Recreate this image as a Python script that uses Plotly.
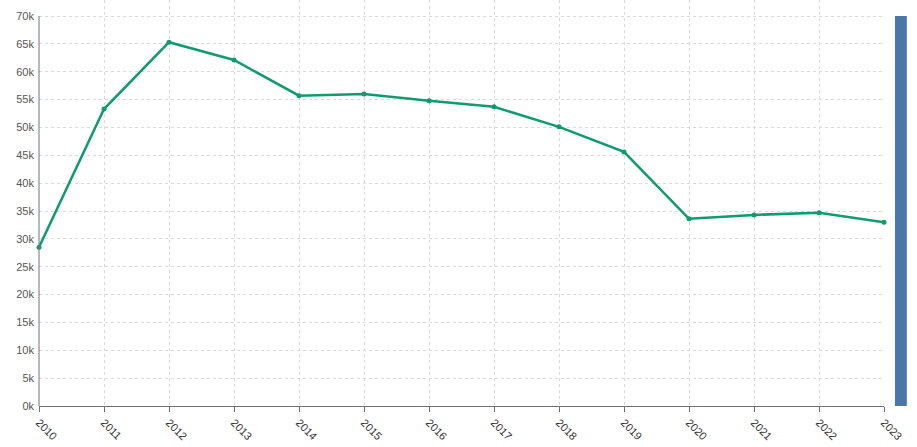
"""Yearly totals line chart."""
import plotly.graph_objects as go

years = list(range(2010, 2024))
totals = [28500, 53300, 65300, 62100, 55700, 56000, 54800,
          53700, 50100, 45600, 33600, 34300, 34700, 33000]
y_ticks = list(range(0, 70001, 5000))
y_labels = [f"{v // 1000}k" for v in y_ticks]

LINE_GREEN = "#0f9b6e"
GRID = "#dadada"
AXIS = "#6e7079"

fig = go.Figure()
fig.add_trace(go.Scatter(
    x=years,
    y=totals,
    mode="lines+markers",
    line=dict(color=LINE_GREEN, width=2.5),
    marker=dict(color=LINE_GREEN, size=5),
    cliponaxis=False,
    showlegend=False,
))

# y axis line only up to the top tick, like the original
fig.add_shape(type="line", xref="paper", yref="y", x0=0, x1=0, y0=0, y1=70000,
              line=dict(color=AXIS, width=1))
# right-hand range bar
fig.add_shape(type="rect", xref="paper", yref="y", x0=1.013, x1=1.027,
              y0=0, y1=70000, line=dict(width=0), fillcolor="#4a76a8")

fig.update_layout(
    width=917,
    height=447,
    margin=dict(l=39, r=33, t=0, b=41),
    plot_bgcolor="white",
    paper_bgcolor="white",
    font=dict(family="Liberation Sans, Arial, sans-serif", size=11, color="#555"),
    xaxis=dict(
        range=[2010, 2023],
        tickvals=years,
        tickangle=45,
        showgrid=True,
        gridcolor=GRID,
        griddash="3px,3px",
        gridwidth=1,
        showline=True,
        linecolor=AXIS,
        ticks="outside",
        ticklen=5,
        tickcolor=AXIS,
        zeroline=False,
        tickfont=dict(size=11, color="#333"),
    ),
    yaxis=dict(
        range=[0, 70000 * 406 / 390],
        tickvals=y_ticks,
        ticktext=y_labels,
        showgrid=True,
        gridcolor=GRID,
        griddash="3px,3px",
        gridwidth=1,
        showline=False,
        zeroline=False,
        ticks="",
        ticklabelstandoff=4,
        tickfont=dict(size=11, color="#555"),
    ),
)

fig.write_html("out.html", config={"displayModeBar": False},
               post_script="document.body.style.margin='0';")
